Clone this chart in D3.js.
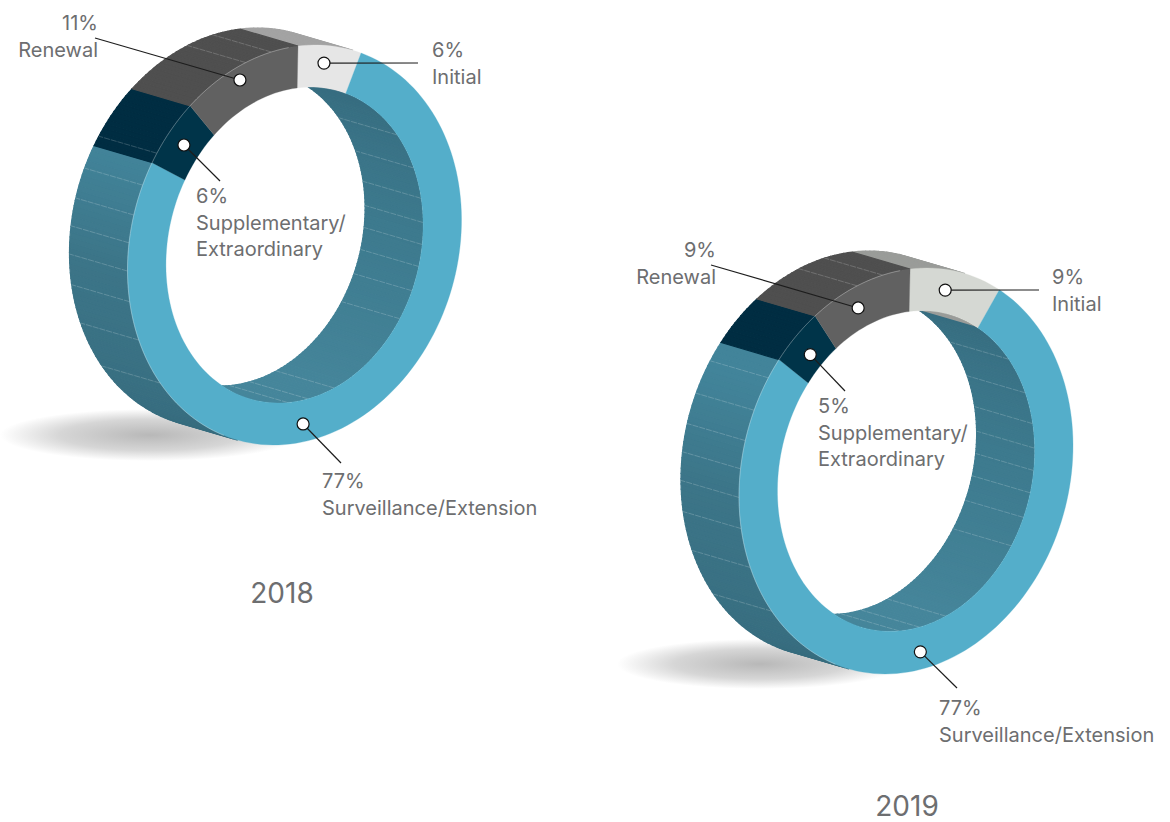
<!DOCTYPE html>
<meta charset="utf-8">
<style>
body { margin: 0; background: #fff; }
text { font-family: Inter, sans-serif; font-size: 20px; fill: #6d6e70; }
.year { font-size: 28px; text-anchor: middle; }
</style>
<svg width="1170" height="822"></svg>
<script src="https://d3js.org/d3.v7.min.js"></script>
<script>
var slices = ["Initial", "Surveillance/Extension", "Supplementary/Extraordinary", "Renewal"];
var values2018 = [6, 77, 6, 11];
var values2019 = [9, 77, 5, 9];
var labels2018 = ["6%", "77%", "6%", "11%"];
var labels2019 = ["9%", "77%", "5%", "9%"];
// where the callout dot sits: percent along the ring, radius share
var dotPct2018 = [3.1, 49.1, 86.55, 94.3];
var dotPct2019 = [4.2, 48.5, 88.5, 94.8];
var dotR2018 = [0.912, 0.91, 0.885, 0.932];
var dotR2019 = [0.9, 0.913, 0.867, 0.893];
// panel seams on the walls, degrees clockwise from the top
var outerSeams = [233.5, 248.8, 260.7, 269.7, 277.8, 285.8, 294.6, 304.5, 343, 352];
var innerSeams = [53, 68, 80, 89, 97, 105, 114, 125, 162, 174, 183];

var innerX = 0.77, innerY = 0.79;
var depth = [-58, -17];

var svg = d3.select("svg");
var defs = svg.append("defs");
var shadow = defs.append("radialGradient").attr("id", "shadow");
shadow.append("stop").attr("offset", "0%").attr("stop-color", "#b8b8b8");
shadow.append("stop").attr("offset", "60%").attr("stop-color", "#d6d6d6");
shadow.append("stop").attr("offset", "100%").attr("stop-color", "#fff");

var line = d3.line();

function drawRing(cfg) {
  var g = svg.append("g");

  // unit circle -> sheared ellipse
  function project(deg, rx, ry) {
    if (ry === undefined) ry = rx;
    var a = deg * Math.PI / 180;
    var u = Math.sin(a), v = -Math.cos(a);
    return [cfg.cx + rx * 167 * u, cfg.cy + ry * cfg.sy * (-25 * u + 198.4 * v)];
  }
  function back(p) { return [p[0] + depth[0], p[1] + depth[1]]; }
  function arc(a0, a1, rx, ry) {
    var n = Math.max(2, Math.ceil(Math.abs(a1 - a0) / 2));
    return d3.range(n + 1).map(function(i) { return project(a0 + (a1 - a0) * i / n, rx, ry); });
  }

  var pie = d3.pie().sort(null)(cfg.values);
  // slice edges on the drawn ring sit slightly off the true share
  var deg = d3.scaleLinear().domain(cfg.warp[0]).range(cfg.warp[1]);
  var spans = pie.map(function(d) {
    return [deg(d.startAngle * 180 / Math.PI), deg(d.endAngle * 180 / Math.PI)];
  });

  // shadow under the ring
  g.append("ellipse")
    .attr("cx", cfg.shadow[0]).attr("cy", cfg.shadow[1])
    .attr("rx", cfg.shadow[2]).attr("ry", cfg.shadow[3])
    .attr("fill", "url(#shadow)");

  function wall(parent, rx, ry, seams, colorOf, shown) {
    spans.forEach(function(s, i) {
      var n = Math.max(3, Math.ceil((s[1] - s[0]) / 1.5));
      d3.range(n).forEach(function(k) {
        var a0 = s[0] + (s[1] - s[0]) * k / n, a1 = s[0] + (s[1] - s[0]) * (k + 1) / n;
        if (!shown((a0 + a1) / 2)) return;
        var front = arc(a0, a1, rx, ry);
        var col = colorOf(i, (a0 + a1) / 2);
        parent.append("path")
          .attr("d", line(front.concat(front.map(back).reverse())) + "Z")
          .attr("fill", col)
          .attr("stroke", col)
          .attr("stroke-width", 1.2);
      });
      seams.filter(function(a) { return a > s[0] && a < s[1]; }).forEach(function(a) {
        var edge = project(a, rx, ry);
        parent.append("path")
          .attr("d", line([edge, back(edge)]))
          .attr("stroke", "#fff")
          .attr("stroke-opacity", 0.28)
          .attr("stroke-width", 0.7)
          .attr("stroke-dasharray", "6 1");
      });
    });
  }

  // surveillance wall gets darker towards the bottom on the outside
  var outerShade = d3.scaleLinear().domain([205, 270, 302]).range(["#376c7e", "#3c7588", "#42849a"]).clamp(true);
  var innerShade = d3.scaleLinear().domain([35, 95, 165]).range(["#376d80", "#3d7a8e", "#46869b"]).clamp(true);

  // outer wall only faces us on the far side of the depth direction
  wall(g, 1, 1, outerSeams, function(i, a) {
    return i === 1 ? outerShade(a) : cfg.wallFill[i];
  }, function(a) { return a < 20 || a > 200.5; });

  // hole, then inner wall seen through it
  var holeId = "hole" + cfg.year;
  var holePts = arc(0, 360, innerX, innerY);
  defs.append("clipPath").attr("id", holeId)
    .append("path").attr("d", line(holePts) + "Z");
  g.append("path").attr("d", line(holePts) + "Z").attr("fill", "#fff");
  wall(g.append("g").attr("clip-path", "url(#" + holeId + ")"), innerX, innerY, innerSeams, function(i, a) {
    return i === 1 ? innerShade(a) : cfg.wallFill[i];
  }, function(a) { return a > 15 && a < 205; });

  // front face
  spans.forEach(function(s, i) {
    var ring = arc(s[0], s[1], 1, 1).concat(arc(s[1], s[0], innerX, innerY));
    g.append("path")
      .attr("d", line(ring) + "Z")
      .attr("fill", cfg.front[i])
      .attr("stroke", cfg.front[i])
      .attr("stroke-width", 0.3);
  });
  g.append("path")
    .attr("d", line(arc(205, 358, 1, 1)))
    .attr("fill", "none")
    .attr("stroke", "#fff")
    .attr("stroke-opacity", 0.45)
    .attr("stroke-width", 0.7);

  // callouts
  cfg.callouts.forEach(function(c, i) {
    var p = project(cfg.dotPct[i] * 3.6, cfg.dotR[i]);
    g.append("path")
      .attr("d", line([p, c.end]))
      .attr("stroke", "#1d1d1d")
      .attr("stroke-width", 1.2);
    g.append("circle")
      .attr("cx", p[0]).attr("cy", p[1]).attr("r", 6)
      .attr("fill", "#fff")
      .attr("stroke", "#111")
      .attr("stroke-width", 1.2);
    var rows = [cfg.labels[i]].concat(c.lines);
    rows.forEach(function(t, k) {
      g.append("text")
        .attr("x", c.text[0])
        .attr("y", c.text[1] + k * 26.5)
        .attr("text-anchor", c.anchor || "start")
        .text(t);
    });
  });

  g.append("text").attr("class", "year")
    .attr("x", cfg.yearAt[0]).attr("y", cfg.yearAt[1]).text(cfg.year);
}

drawRing({
  year: 2018, cx: 294.5, cy: 245, sy: 1,
  values: values2018, labels: labels2018, dotPct: dotPct2018, dotR: dotR2018,
  warp: [[0, 21.6, 298.8, 320.4, 360], [1.2, 23.5, 301.5, 321.3, 361.2]],
  shadow: [150, 435, 150, 26], yearAt: [282, 603],
  front: ["#e6e6e6", "#54aeca", "#003449", "#616161"],
  wallFill: ["#a3a3a3", "#3e8098", "#002d42", "#4f4f4f"],
  callouts: [
    { end: [418, 63], text: [432, 57], lines: ["Initial"] },
    { end: [341, 463], text: [322, 488], lines: ["Surveillance/Extension"] },
    { end: [220, 181], text: [196, 203], lines: ["Supplementary/", "Extraordinary"] },
    { end: [95, 38], text: [98, 30], lines: ["Renewal"], anchor: "end" }
  ]
});

drawRing({
  year: 2019, cx: 906, cy: 471, sy: 1.015,
  values: values2019, labels: labels2019, dotPct: dotPct2019, dotR: dotR2019,
  warp: [[0, 32.4, 309.6, 327.6, 360], [1.4, 34, 310.5, 327, 361.4]],
  shadow: [760, 664, 143, 25], yearAt: [907, 816],
  front: ["#d5d8d3", "#54aeca", "#003449", "#616161"],
  wallFill: ["#9a9c99", "#3e8098", "#002d42", "#4f4f4f"],
  callouts: [
    { end: [1039, 290], text: [1052, 284], lines: ["Initial"] },
    { end: [957, 688], text: [939, 715], lines: ["Surveillance/Extension"] },
    { end: [845, 391], text: [818, 413], lines: ["Supplementary/", "Extraordinary"] },
    { end: [711, 265], text: [716, 257], lines: ["Renewal"], anchor: "end" }
  ]
});
</script>
